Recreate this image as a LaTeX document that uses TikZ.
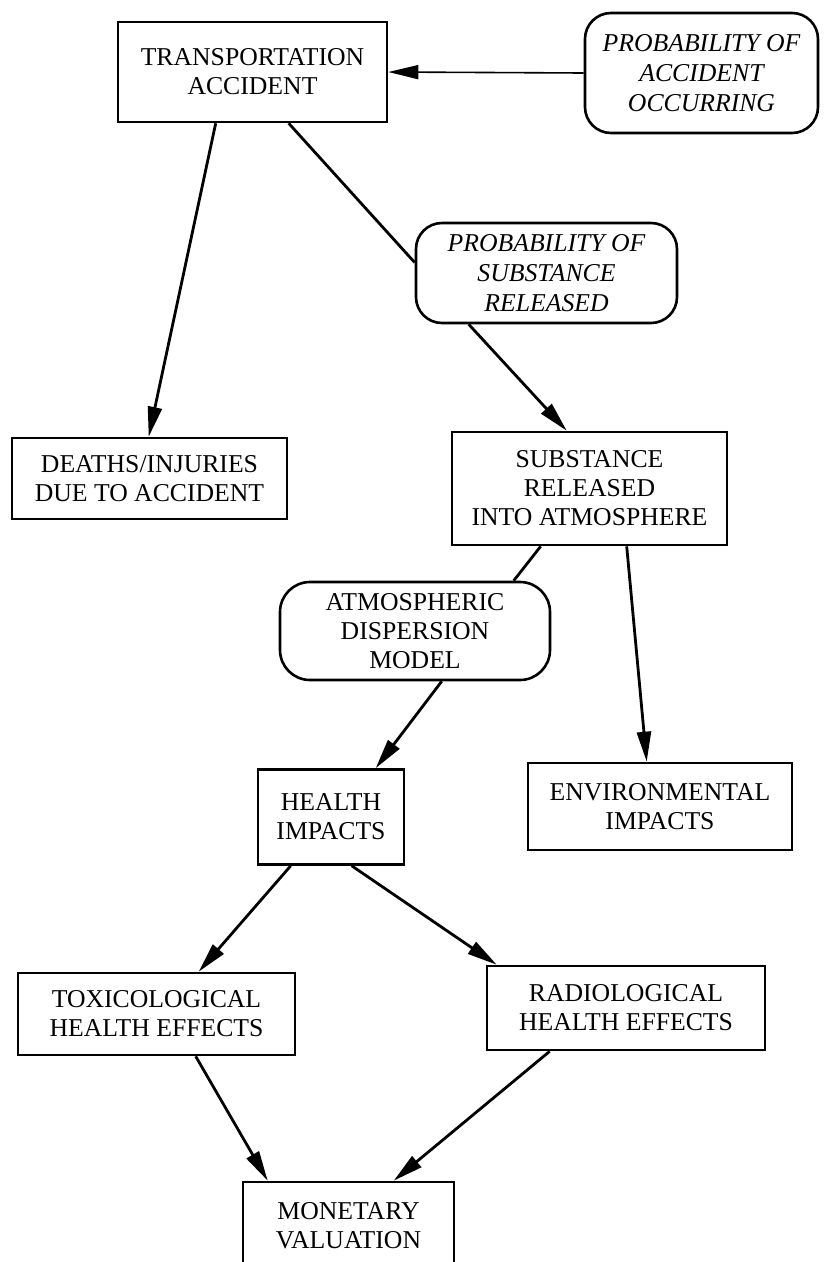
\documentclass[tikz,border=0pt]{standalone}
\usepackage{fontspec}
\setmainfont{Liberation Serif}
\usetikzlibrary{arrows.meta,calc}
\begin{document}
\begin{tikzpicture}[x=1pt,y=-1pt,
  box/.style={draw, line width=2.6pt, align=center, inner sep=0pt, fill=white,
    font=\fontsize{25.7}{29}\selectfont},
  rbox/.style={box, rounded corners=26pt},
  ital/.style={font=\fontsize{25.7}{30}\selectfont\itshape},
  conn/.style={line width=2.8pt},
  arr/.style={conn, -{Triangle[length=30pt,width=14pt]}},
]
\clip (0,0) rectangle (826,1262);
\fill[white] (0,0) rectangle (826,1262);

\node[box, minimum width=269pt, minimum height=100pt] (trans) at (252.5,72) {TRANSPORTATION\\ACCIDENT};
\node[rbox, ital, minimum width=233pt, minimum height=120pt] (pacc) at (701.5,73) {PROBABILITY OF\\ACCIDENT\\OCCURRING};
\node[rbox, ital, minimum width=261pt, minimum height=100pt] (psub) at (546.5,273) {PROBABILITY OF\\SUBSTANCE\\RELEASED};
\node[box, minimum width=275pt, minimum height=81pt] (deaths) at (149.5,478.5) {DEATHS/INJURIES\\DUE TO ACCIDENT};
\node[box, minimum width=275pt, minimum height=113pt] (subst) at (589.5,488.5) {SUBSTANCE\\RELEASED\\INTO ATMOSPHERE};
\node[rbox, rounded corners=30pt, minimum width=270pt, minimum height=98pt] (atmos) at (415,631) {ATMOSPHERIC\\DISPERSION\\MODEL};
\node[box, minimum width=146pt, minimum height=95pt] (health) at (331,817) {HEALTH\\IMPACTS};
\node[box, minimum width=264pt, minimum height=87pt] (env) at (660,806.5) {ENVIRONMENTAL\\IMPACTS};
\node[box, minimum width=277pt, minimum height=82pt] (tox) at (156.5,1014) {TOXICOLOGICAL\\HEALTH EFFECTS};
\node[box, minimum width=278pt, minimum height=84pt] (radio) at (626,1008) {RADIOLOGICAL\\HEALTH EFFECTS};
\node[box, minimum width=211pt, minimum height=88pt] (monet) at (348.5,1226) {MONETARY\\VALUATION};

\draw[line width=1.6pt, -{Triangle[length=30pt,width=14pt]}] (pacc.west) -- (trans.east);
\draw[arr] ($(trans.south west)+(99,0)$) -- ($(deaths.north west)+(138,0)$);
\draw[conn] ($(trans.south west)+(172,0)$) -- ($(psub.west)+(0,-10.5)$);
\draw[arr] ($(psub.south west)+(54,0)$) -- ($(subst.north west)+(116,0)$);
\draw[conn] ($(subst.south west)+(90,0)$) -- ($(atmos.north west)+(235,0)$);
\draw[arr] ($(atmos.south west)+(163,0)$) -- ($(health.north west)+(119,0)$);
\draw[arr] ($(subst.south west)+(176,0)$) -- ($(env.north west)+(120,0)$);
\draw[arr] ($(health.south west)+(34,0)$) -- ($(tox.north west)+(182,0)$);
\draw[arr] ($(health.south west)+(95,0)$) -- ($(radio.north west)+(11,0)$);
\draw[arr] ($(tox.south west)+(179,0)$) -- ($(monet.north west)+(26,0)$);
\draw[arr] ($(radio.south west)+(64,0)$) -- ($(monet.north west)+(152,0)$);
\end{tikzpicture}
\end{document}
